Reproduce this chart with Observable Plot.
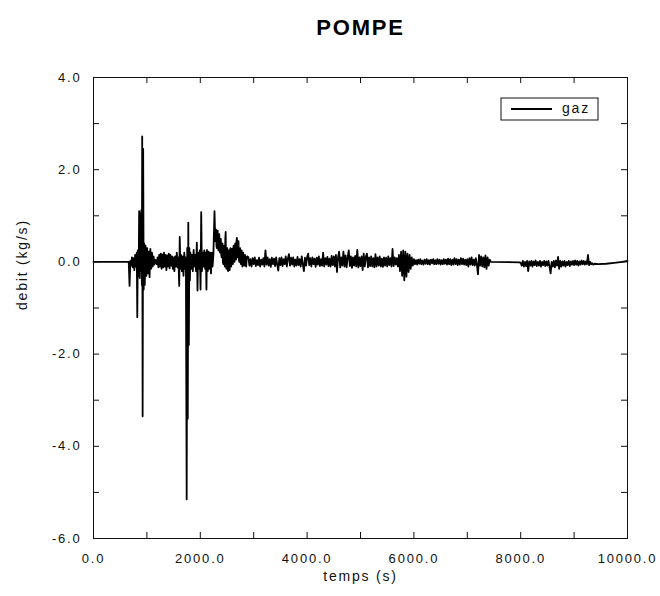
<!DOCTYPE html>
<html>
<head>
<meta charset="utf-8">
<script src="https://cdn.jsdelivr.net/npm/d3@7"></script>
<script src="https://cdn.jsdelivr.net/npm/@observablehq/plot@0.6"></script>
<style>
  html, body { margin: 0; padding: 0; background: #fff; }
</style>
</head>
<body>
<div id="chart"></div>
<script>
// ---- data ----
// irregular parts: [temps (s), debit (kg/s)] pairs
const quiet = [[0, 0], [660, 0]];

const burst1 = [
  [675,-0.52],[690,0.02],[705,-0.08],[720,0.1],[735,-0.12],[750,0.08],[765,-0.18],[780,0.15],
  [795,-0.1],[810,0.2],[820,-1.2],[830,0.25],[845,-0.3],[855,1.1],[865,-0.35],[875,1.05],
  [885,-0.2],[895,1.12],[905,-0.5],[912,2.72],[920,-3.35],[930,2.45],[940,-0.6],[950,0.4],
  [960,-0.5],[975,0.35],[990,-0.3],[1005,0.3],[1020,-0.25],[1035,0.22],[1050,-0.33],[1065,0.28],
  [1080,-0.15],[1095,0.2],[1110,-0.1],[1125,0.12],[1140,-0.06],[1155,0.05],[1170,0.02],[1185,-0.05],
  [1200,0.1],[1215,-0.12],[1230,0.15],[1245,-0.1],[1260,0.18],[1275,-0.15],[1290,0.16],[1305,-0.12],
  [1320,0.2],[1335,-0.1],[1350,0.15],[1365,-0.18],[1380,0.14],[1395,-0.1],[1410,0.18],[1425,-0.14],
  [1440,0.15],[1455,-0.08],[1470,0.12],[1485,-0.15],[1500,0.1],[1515,-0.2],[1530,0.12],[1545,-0.1],
  [1560,0.2],[1575,-0.12],[1590,0.1],[1605,-0.52],[1615,0.54],[1628,-0.15]
];

const burst2 = [
  [1640,0.15],[1655,-0.2],[1670,0.12],[1685,-0.3],[1700,0.2],[1715,-0.15],[1730,0.1],[1745,-5.15],
  [1755,0.3],[1765,-3.4],[1775,0.85],[1785,-1.8],[1795,0.3],[1805,-0.4],[1815,0.2],[1830,-0.15],
  [1845,0.15],[1860,-0.2],[1875,0.26],[1890,-0.1],[1905,0.15],[1920,-0.2],[1935,0.42],[1948,-0.62],
  [1960,0.2],[1975,-0.15],[1990,0.25],[2005,-0.6],[2017,1.08],[2030,-0.2],[2045,0.2],[2060,-0.1],
  [2075,0.25],[2090,-0.15],[2105,0.2],[2115,-0.6],[2125,0.26],[2140,-0.2],[2155,0.22],[2170,-0.15],
  [2185,0.2],[2200,-0.25],[2215,0.2],[2230,-0.1],[2245,0.15],[2255,0.6],[2266,1.1],[2280,0.45]
];

const decay = [
  [2295,0.7],[2303,0.35],[2310,0.3],[2318,0.62],[2325,0.68],[2333,0.3],[2340,0.25],[2348,0.55],
  [2355,0.6],[2363,0.25],[2370,0.2],[2378,0.45],[2385,0.5],[2393,0.15],[2400,0.1],[2408,0.35],
  [2415,0.4],[2423,0.0],[2430,-0.05],[2438,0.3],[2445,0.35],[2453,-0.05],[2460,-0.1],[2468,0.5],
  [2475,0.65],[2483,-0.1],[2490,-0.15],[2498,0.25],[2505,0.3],[2513,-0.15],[2520,-0.2],[2528,0.2],
  [2535,0.25],[2543,-0.15],[2550,-0.18],[2558,0.25],[2565,0.3],[2573,-0.05],[2580,-0.1],[2588,0.22],
  [2595,0.28],[2603,0.0],[2610,-0.05],[2618,0.3],[2625,0.35],[2633,0.05],[2640,0.0],[2648,0.35],
  [2655,0.4],[2663,0.1],[2670,0.05],[2678,0.45],[2685,0.52],[2693,0.15],[2700,0.1],[2708,0.4],
  [2715,0.45],[2723,0.05],[2730,0.0],[2738,0.25],[2745,0.3],[2753,0.0],[2760,-0.05],[2768,0.2],
  [2775,0.25],[2783,-0.05],[2790,-0.1],[2798,0.15],[2805,0.2],[2813,-0.05],[2820,-0.08],[2830,0.12],
  [2840,0.15],[2850,-0.08],[2860,-0.1],[2870,0.1],[2880,0.12]
];

// regularly sampled parts: one value every `tailStep` seconds from the given start
const tailStep = 20;

const tail1Start = 2900;
const tail1 = [
  0.1,-0.08,0.06,-0.1,0.08,-0.05,0.1,-0.09,0.04,-0.07,
  0.09,-0.1,0.05,-0.06,0.08,-0.1,0.25,-0.06,0.1,-0.08,
  0.06,-0.11,0.09,-0.05,0.07,-0.09,0.1,-0.06,-0.19,0.08,
  -0.07,0.1,-0.09,0.06,-0.05,0.12,-0.1,0.07,0.17,-0.08,
  0.09,-0.06,0.1,-0.1,0.05,-0.08,0.11,-0.07,0.06,-0.1,
  0.12,-0.06,-0.2,0.09,-0.08,0.1,0.18,-0.07,0.08,-0.1,
  0.1,-0.05,0.07,-0.11,0.09,-0.06,0.12,-0.09,0.06,-0.08,
  0.2,-0.1,0.08,-0.06,0.11,-0.09,0.07,-0.1,0.13,-0.07
];

const tail2Start = 4500;
const tail2 = [
  0.12,-0.1,0.15,-0.22,0.1,0.22,-0.12,0.1,-0.08,0.22,
  -0.1,0.14,-0.12,0.1,0.25,-0.09,0.12,-0.13,0.1,-0.08,
  0.13,-0.1,0.26,-0.12,0.1,-0.09,0.12,-0.18,0.18,-0.1,
  0.11,0.18,-0.12,0.1,-0.09,0.12,-0.1,0.08,-0.12,0.17,
  -0.1,0.1,-0.08,0.12,-0.1,0.07,-0.11,0.1,-0.08,0.09,
  -0.1,0.12,-0.07,0.08,-0.1,0.28,-0.09,0.1,-0.06,0.08,
  -0.1,0.15,-0.2,0.22,-0.3,0.25,-0.4,0.22,-0.32,0.18,
  -0.22,0.15,-0.15,0.1,-0.08
];

const tail3Start = 6000;
const tail3 = [
  0.06,-0.05,0.04,-0.06,0.05,-0.04,0.06,-0.05,0.03,-0.06,
  0.05,-0.04,0.06,-0.05,0.04,-0.06,0.05,-0.03,0.06,-0.05,
  0.04,-0.05,0.06,-0.04,0.05,-0.06,0.04,-0.05,0.06,-0.04,
  0.05,-0.06,0.07,-0.05,0.06,-0.07,0.05,-0.06,0.08,-0.05,
  0.06,-0.07,0.05,-0.06,0.08,-0.05,0.07,-0.06,0.05,-0.07,
  0.06,-0.1,0.08,-0.06,0.1,-0.07,0.05,-0.08,0.08,-0.06,
  -0.27,0.15,-0.08,0.12,-0.1,0.1,-0.12,0.14,-0.15,0.1,
  -0.08,0.05
];

const pause = [[7440, 0.0], [7980, -0.01]];

const tail4Start = 8000;
const tail4 = [
  -0.02,-0.08,0.02,-0.1,0.0,-0.09,0.02,-0.2,0.01,-0.08,
  0.02,-0.1,0.01,-0.07,0.03,-0.09,0.0,-0.08,0.02,-0.1,
  0.0,-0.07,0.02,-0.09,0.01,-0.08,0.02,-0.1,-0.25,0.0,
  -0.1,0.02,-0.12,0.03,-0.08,0.11,-0.15,0.02,-0.1,0.01,
  -0.08,0.02,-0.1,0.0,-0.07,0.02,-0.09,0.01,-0.06,0.02,
  -0.07,0.03,-0.06,0.02,-0.08,0.01,-0.06,0.03,-0.05,0.02,
  -0.06,0.01,-0.05,0.15,-0.07,0.0,-0.05,-0.03,-0.06,-0.04
];

const ending = [[9450,-0.05],[9600,-0.04],[9750,-0.02],[9900,0.0],[10000,0.02]];

const xLabelTicks = [0, 2000, 4000, 6000, 8000, 10000];
const xMinorTicks = [1000, 2000, 3000, 4000, 5000, 6000, 7000, 8000, 9000];
const yLabelTicks = [-6, -4, -2, 0, 2, 4];
const yMinorTicks = [-5, -4, -3, -2, -1, 0, 1, 2, 3];

const titleText = "POMPE";
const xLabel = "temps (s)";
const yLabel = "debit (kg/s)";
const seriesName = "gaz";

// ---- build ----
const sampled = (start, vals) => vals.map((v, i) => [start + i * tailStep, v]);
const series = [].concat(
  quiet, burst1, burst2, decay,
  sampled(tail1Start, tail1), sampled(tail2Start, tail2), sampled(tail3Start, tail3),
  pause, sampled(tail4Start, tail4), ending
).map(([t, v]) => ({t, v}));

const W = 660, H = 596;
const mTop = 77, mBottom = 58, mLeft = 93, mRight = 33;
const frameW = W - mLeft - mRight, frameH = H - mTop - mBottom;
const tickLen = 6;
const ink = "#111";

const legend = (index, scales, values, dims) => {
  const right = dims.width - dims.marginRight;
  const top = dims.marginTop;
  const g = d3.create("svg:g");
  g.append("rect")
    .attr("x", right - 126).attr("y", top + 21)
    .attr("width", 97).attr("height", 22)
    .attr("fill", "white").attr("stroke", ink).attr("stroke-width", 1);
  g.append("line")
    .attr("x1", right - 116).attr("x2", right - 75)
    .attr("y1", top + 32).attr("y2", top + 32)
    .attr("stroke", "black").attr("stroke-width", 2);
  g.append("text")
    .attr("x", right - 65).attr("y", top + 32)
    .attr("dy", "0.32em")
    .attr("text-anchor", "start")
    .attr("font-size", 14).attr("fill", ink)
    .text(seriesName);
  return g.node();
};

const chart = Plot.plot({
  width: W,
  height: H,
  marginTop: mTop,
  marginBottom: mBottom,
  marginLeft: mLeft,
  marginRight: mRight,
  style: {fontFamily: "'Liberation Sans', Arial, Helvetica, sans-serif", fontSize: "13px", letterSpacing: "1.8px", color: ink, background: "white"},
  x: {domain: [0, 10000], axis: null},
  y: {domain: [-6, 4], axis: null},
  marks: [
    Plot.line(series, {x: "t", y: "v", stroke: "black", strokeWidth: 1.8}),
    // inward ticks on all four sides
    Plot.tickX(xMinorTicks, {x: d => d, insetTop: frameH - tickLen, stroke: ink}),
    Plot.tickX(xMinorTicks, {x: d => d, insetBottom: frameH - tickLen, stroke: ink}),
    Plot.tickY(yMinorTicks, {y: d => d, insetRight: frameW - tickLen, stroke: ink}),
    Plot.tickY(yMinorTicks, {y: d => d, insetLeft: frameW - tickLen, stroke: ink}),
    Plot.frame({stroke: ink, strokeWidth: 1}),
    Plot.axisX(xLabelTicks, {anchor: "bottom", tickSize: 0, tickPadding: 15, tickFormat: d => d.toFixed(1), label: null, fill: ink}),
    Plot.axisY(yLabelTicks, {anchor: "left", tickSize: 0, tickPadding: 12, tickFormat: d => d.toFixed(1), label: null, fill: ink}),
    Plot.text([xLabel], {frameAnchor: "bottom", dy: 42, fontSize: 14, fill: ink}),
    Plot.text([yLabel], {frameAnchor: "left", dx: -71, dy: 2, rotate: -90, fontSize: 14, fill: ink}),
    Plot.text([titleText], {frameAnchor: "top", dy: -58, fontSize: 22, fontWeight: "bold", fill: "black"}),
    legend
  ]
});

document.getElementById("chart").appendChild(chart);
</script>
</body>
</html>
